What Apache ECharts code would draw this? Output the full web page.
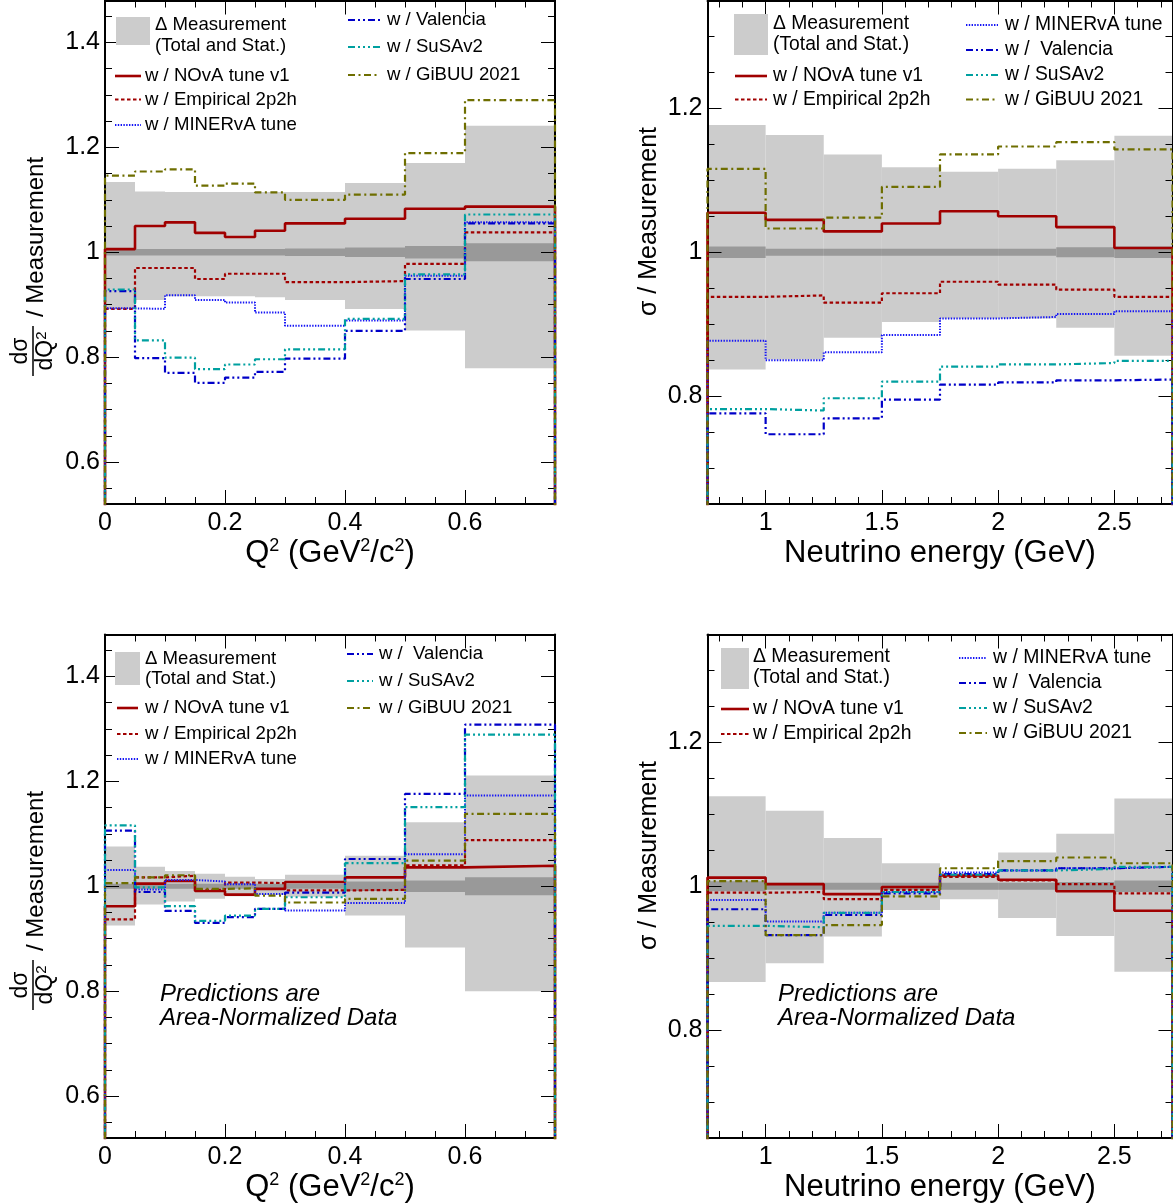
<!DOCTYPE html>
<html>
<head>
<meta charset="utf-8">
<script src="https://cdn.jsdelivr.net/npm/echarts@6/dist/echarts.min.js"></script>
<style>
  html, body { margin: 0; padding: 0; background: #ffffff; }
  #chart { width: 1173px; height: 1204px; }
</style>
</head>
<body>
<div id="chart"></div>
<script>
const FONT = '"Liberation Sans", Arial, Helvetica, sans-serif';

// ---- binning and ticks ----
const q2Edges = [0, 0.05, 0.1, 0.15, 0.2, 0.25, 0.3, 0.4, 0.5, 0.6, 0.75];
const enuEdges = [0.75, 1.0, 1.25, 1.5, 1.75, 2.0, 2.25, 2.5, 2.75];
const q2TickLabels = [0, 0.2, 0.4, 0.6];
const enuTickLabels = [1, 1.5, 2, 2.5];
const q2RatioTicks = [0.6, 0.8, 1, 1.2, 1.4];
const enuRatioTicks = [0.8, 1, 1.2];

// ---- Q2, absolute prediction / measurement ----
const q2AbsTotalUp   = [0.134, 0.116, 0.115, 0.115, 0.115, 0.115, 0.115, 0.132, 0.170, 0.241];
const q2AbsTotalDown = [0.108, 0.091, 0.084, 0.084, 0.084, 0.086, 0.091, 0.108, 0.149, 0.221];
const q2AbsStat      = [0.006, 0.006, 0.006, 0.006, 0.006, 0.006, 0.007, 0.009, 0.012, 0.017];
const q2AbsNova      = [1.006, 1.050, 1.057, 1.037, 1.029, 1.041, 1.055, 1.064, 1.083, 1.087];
const q2AbsEmpirical = [0.892, 0.970, 0.970, 0.949, 0.959, 0.959, 0.943, 0.945, 0.978, 1.038];
const q2AbsMinerva   = [0.893, 0.892, 0.918, 0.909, 0.904, 0.885, 0.860, 0.870, 0.955, 1.057];
const q2AbsValencia  = [0.926, 0.798, 0.770, 0.751, 0.761, 0.772, 0.797, 0.850, 0.949, 1.055];
const q2AbsSusa      = [0.929, 0.832, 0.799, 0.777, 0.786, 0.796, 0.815, 0.873, 0.958, 1.072];
const q2AbsGibuu     = [1.146, 1.154, 1.158, 1.127, 1.131, 1.114, 1.100, 1.110, 1.189, 1.290];

// ---- neutrino energy, absolute prediction / measurement ----
const enuAbsTotalUp   = [0.177, 0.163, 0.136, 0.118, 0.112, 0.116, 0.128, 0.162];
const enuAbsTotalDown = [0.163, 0.149, 0.119, 0.097, 0.092, 0.092, 0.105, 0.144];
const enuAbsStat      = [0.008, 0.005, 0.005, 0.005, 0.005, 0.005, 0.007, 0.008];
const enuAbsNova      = [1.055, 1.045, 1.029, 1.040, 1.057, 1.050, 1.035, 1.006];
const enuAbsEmpirical = [0.938, 0.940, 0.930, 0.943, 0.959, 0.955, 0.948, 0.938];
const enuAbsMinerva   = [0.877, 0.850, 0.861, 0.885, 0.908, 0.910, 0.914, 0.918];
const enuAbsValencia  = [0.776, 0.747, 0.769, 0.795, 0.816, 0.819, 0.822, 0.823];
const enuAbsSusa      = [0.782, 0.780, 0.797, 0.820, 0.841, 0.844, 0.846, 0.849];
const enuAbsGibuu     = [1.116, 1.033, 1.048, 1.091, 1.136, 1.147, 1.153, 1.143];

// ---- Q2, area-normalized prediction / measurement ----
const q2ShapeTotalUp   = [0.076, 0.037, 0.029, 0.024, 0.018, 0.014, 0.022, 0.058, 0.122, 0.211];
const q2ShapeTotalDown = [0.075, 0.035, 0.029, 0.024, 0.019, 0.016, 0.020, 0.056, 0.117, 0.200];
const q2ShapeStat      = [0.005, 0.005, 0.005, 0.005, 0.005, 0.005, 0.005, 0.009, 0.011, 0.017];
const q2ShapeNova      = [0.962, 1.005, 1.010, 0.991, 0.984, 0.995, 1.008, 1.017, 1.036, 1.039];
const q2ShapeEmpirical = [0.937, 1.017, 1.020, 0.993, 1.007, 1.006, 0.992, 0.993, 1.040, 1.088];
const q2ShapeMinerva   = [1.031, 0.994, 1.012, 1.009, 1.004, 0.985, 0.954, 0.968, 1.061, 1.173];
const q2ShapeValencia  = [1.106, 0.989, 0.953, 0.930, 0.941, 0.957, 0.988, 1.052, 1.176, 1.308];
const q2ShapeSusa      = [1.116, 0.998, 0.962, 0.934, 0.944, 0.957, 0.979, 1.044, 1.151, 1.289];
const q2ShapeGibuu     = [1.006, 1.017, 1.021, 0.995, 0.996, 0.982, 0.969, 0.976, 1.049, 1.138];

// ---- neutrino energy, area-normalized prediction / measurement ----
const enuShapeTotalUp   = [0.125, 0.105, 0.067, 0.032, 0.018, 0.047, 0.073, 0.122];
const enuShapeTotalDown = [0.133, 0.107, 0.070, 0.033, 0.018, 0.044, 0.069, 0.119];
const enuShapeStat      = [0.007, 0.005, 0.005, 0.005, 0.005, 0.005, 0.006, 0.008];
const enuShapeNova      = [1.012, 1.003, 0.989, 0.999, 1.015, 1.009, 0.993, 0.966];
const enuShapeEmpirical = [0.991, 0.992, 0.982, 0.995, 1.013, 1.008, 1.003, 0.990];
const enuShapeMinerva   = [0.981, 0.951, 0.963, 0.992, 1.019, 1.022, 1.025, 1.027];
const enuShapeValencia  = [0.968, 0.932, 0.960, 0.990, 1.017, 1.022, 1.025, 1.027];
const enuShapeSusa      = [0.945, 0.943, 0.963, 0.992, 1.016, 1.022, 1.024, 1.027];
const enuShapeGibuu     = [1.007, 0.932, 0.946, 0.986, 1.025, 1.035, 1.040, 1.032];

// ---- drawing styles ----
const TOTAL_FILL = '#cccccc';
const STAT_FILL = '#999999';
const MODEL_ORDER = ['nova', 'emp', 'minerva', 'valencia', 'susa', 'gibuu'];
const MODEL_STYLE = {
  nova:     { color: '#a00000', width: 2.6, dash: 'solid' },
  emp:      { color: '#a00000', width: 2.2, dash: [3.5, 2.5] },
  minerva:  { color: '#1414f5', width: 2.0, dash: [1.4, 1.4] },
  valencia: { color: '#0000c8', width: 2.2, dash: [7, 3, 2, 3, 2, 3] },
  susa:     { color: '#00a0a0', width: 2.2, dash: [7, 3, 2, 3, 2, 3, 2, 3] },
  gibuu:    { color: '#6e6e00', width: 2.2, dash: [7, 3.5, 2, 3.5] }
};
const MODEL_LABEL = {
  nova: 'w / NOvA tune v1',
  emp: 'w / Empirical 2p2h',
  minerva: 'w / MINERvA tune',
  valencia: 'w /  Valencia',
  susa: 'w / SuSAv2',
  gibuu: 'w / GiBUU 2021'
};

const X_SCALES = {
  q2:  { min: 0, max: 0.75, split: 4, minor: 4, ticks: q2TickLabels,
         name: 'Q{s|2} (GeV{s|2}/c{s|2})' },
  enu: { min: 0.75, max: 2.75, split: 4, minor: 5, ticks: enuTickLabels,
         name: 'Neutrino energy (GeV)' }
};
const Y_SCALES = {
  q2:  { min: 0.52, max: 1.48, split: 5, minor: 4, ticks: q2RatioTicks },
  enu: { min: 0.65, max: 1.35, split: 4, minor: 4, ticks: enuRatioTicks }
};

const PANELS = [
  { grid: { left: 105, top: 0.5, width: 450, height: 503.5 }, kind: 'q2', edges: q2Edges,
    up: q2AbsTotalUp, down: q2AbsTotalDown, stat: q2AbsStat,
    curves: { nova: q2AbsNova, emp: q2AbsEmpirical, minerva: q2AbsMinerva,
              valencia: q2AbsValencia, susa: q2AbsSusa, gibuu: q2AbsGibuu } },
  { grid: { left: 707.5, top: 0.5, width: 465, height: 503.5 }, kind: 'enu', edges: enuEdges,
    up: enuAbsTotalUp, down: enuAbsTotalDown, stat: enuAbsStat,
    curves: { nova: enuAbsNova, emp: enuAbsEmpirical, minerva: enuAbsMinerva,
              valencia: enuAbsValencia, susa: enuAbsSusa, gibuu: enuAbsGibuu } },
  { grid: { left: 105, top: 634.5, width: 450, height: 503.5 }, kind: 'q2', edges: q2Edges,
    up: q2ShapeTotalUp, down: q2ShapeTotalDown, stat: q2ShapeStat,
    curves: { nova: q2ShapeNova, emp: q2ShapeEmpirical, minerva: q2ShapeMinerva,
              valencia: q2ShapeValencia, susa: q2ShapeSusa, gibuu: q2ShapeGibuu } },
  { grid: { left: 707.5, top: 634.5, width: 465, height: 503.5 }, kind: 'enu', edges: enuEdges,
    up: enuShapeTotalUp, down: enuShapeTotalDown, stat: enuShapeStat,
    curves: { nova: enuShapeNova, emp: enuShapeEmpirical, minerva: enuShapeMinerva,
              valencia: enuShapeValencia, susa: enuShapeSusa, gibuu: enuShapeGibuu } }
];

// legend block placement for each pad
const LEGENDS = [
  { font: 18.6, box: [116, 17, 34, 28], boxText: [155, 25, 46],
    columns: [
      { line: [115, 141], text: 145, rows: [['nova', 76], ['emp', 99.5], ['minerva', 125]] },
      { line: [348, 380], text: 387, rows: [['valencia', 20, 'w / Valencia'], ['susa', 47], ['gibuu', 75]] }
    ] },
  { font: 19.3, box: [734, 14, 34, 41], boxText: [773, 24, 45],
    columns: [
      { line: [735, 767], text: 773, rows: [['nova', 76], ['emp', 99.5]] },
      { line: [966, 998], text: 1005, rows: [['minerva', 25], ['valencia', 50], ['susa', 75], ['gibuu', 99.5]] }
    ] },
  { font: 18.6, box: [115, 652, 25, 33], boxText: [145, 659, 679],
    columns: [
      { line: [117, 138], text: 145, rows: [['nova', 708], ['emp', 734], ['minerva', 759]] },
      { line: [347, 373], text: 379, rows: [['valencia', 654], ['susa', 681], ['gibuu', 708]] }
    ] },
  { font: 19.4, box: [721, 648, 28, 41], boxText: [753, 657, 678],
    columns: [
      { line: [721, 749], text: 753, rows: [['nova', 709], ['emp', 734]] },
      { line: [959, 987], text: 993, rows: [['minerva', 658], ['valencia', 683], ['susa', 708], ['gibuu', 733]] }
    ] }
];

function labelFormatter(ticks) {
  return function (v) {
    const t = ticks.find(function (k) { return Math.abs(k - v) < 1e-6; });
    return t === undefined ? '' : String(t);
  };
}

// histogram outline: rises from zero at the first edge and drops back at the last
function stepData(edges, vals) {
  const d = [[edges[0], 0]];
  vals.forEach(function (v, i) { d.push([edges[i], v]); });
  d.push([edges[edges.length - 1], vals[vals.length - 1]]);
  d.push([edges[edges.length - 1], 0]);
  return d;
}

function bandSeries(xi, yi, edges, up, down, fill, z) {
  return {
    type: 'custom', xAxisIndex: xi, yAxisIndex: yi, silent: true, animation: false, z: z, clip: true,
    encode: { x: [0, 1], y: [2, 3] },
    data: edges.slice(0, -1).map(function (e, i) { return [e, edges[i + 1], 1 - down[i], 1 + up[i]]; }),
    renderItem: function (params, api) {
      const a = api.coord([api.value(0), api.value(3)]);
      const b = api.coord([api.value(1), api.value(2)]);
      return { type: 'rect', shape: { x: a[0], y: a[1], width: b[0] - a[0], height: b[1] - a[1] },
               style: { fill: fill } };
    }
  };
}

const grids = [], xAxes = [], yAxes = [], series = [];
const axisLine = { show: true, onZero: false, lineStyle: { color: '#000', width: 2 } };
const axisTick = { show: true, inside: true, length: 14, lineStyle: { color: '#000', width: 1 } };

PANELS.forEach(function (p, gi) {
  grids.push(Object.assign({ containLabel: false, outerBoundsMode: 'none' }, p.grid));
  const xs = X_SCALES[p.kind], ys = Y_SCALES[p.kind];
  const xBase = { type: 'value', gridIndex: gi, min: xs.min, max: xs.max, splitNumber: xs.split, z: 1,
    splitLine: { show: false }, axisLine: axisLine, axisTick: axisTick,
    minorTick: { show: true, splitNumber: xs.minor, length: 7, lineStyle: { color: '#000', width: 1 } } };
  const yBase = { type: 'value', gridIndex: gi, min: ys.min, max: ys.max, splitNumber: ys.split, z: 1,
    splitLine: { show: false }, axisLine: axisLine, axisTick: axisTick,
    minorTick: { show: true, splitNumber: ys.minor, length: 7, lineStyle: { color: '#000', width: 1 } } };
  xAxes.push(Object.assign({}, xBase, {
    position: 'bottom',
    axisLabel: { show: true, margin: 7, fontSize: 25, fontFamily: FONT, color: '#000',
                 formatter: labelFormatter(xs.ticks), hideOverlap: false },
    name: xs.name, nameLocation: 'middle', nameGap: 33, nameMoveOverlap: false,
    nameTextStyle: { fontSize: 31, lineHeight: 32, fontFamily: FONT, color: '#000',
      rich: { s: { fontSize: 18, lineHeight: 11, fontFamily: FONT, color: '#000', verticalAlign: 'top' } } }
  }));
  xAxes.push(Object.assign({}, xBase, { position: 'top', axisLabel: { show: false } }));
  yAxes.push(Object.assign({}, yBase, {
    position: 'left',
    axisLabel: { show: true, margin: 5, fontSize: 25, fontFamily: FONT, color: '#000',
                 formatter: labelFormatter(ys.ticks), hideOverlap: false }
  }));
  yAxes.push(Object.assign({}, yBase, { position: 'right', axisLabel: { show: false } }));

  const xi = 2 * gi, yi = 2 * gi;
  series.push(bandSeries(xi, yi, p.edges, p.up, p.down, TOTAL_FILL, 0));
  series.push(bandSeries(xi, yi, p.edges, p.stat, p.stat, STAT_FILL, 0));
  MODEL_ORDER.forEach(function (m) {
    const st = MODEL_STYLE[m];
    series.push({
      type: 'line', name: MODEL_LABEL[m], xAxisIndex: xi, yAxisIndex: yi,
      data: stepData(p.edges, p.curves[m]), step: 'end', symbol: 'none', showSymbol: false,
      silent: true, animation: false, clip: true, z: 3,
      lineStyle: { color: st.color, width: st.width, type: st.dash }
    });
  });
});

// ---- annotations: legends, y titles, normalisation note ----
const graphics = [];
function txt(x, y, text, size, extra) {
  return Object.assign({ type: 'text', x: x, y: y, z: 10, silent: true,
    style: Object.assign({ text: text, font: size + 'px ' + FONT, fill: '#000',
      align: 'left', verticalAlign: 'middle', textAlign: 'left', textVerticalAlign: 'middle' }, extra || {}) });
}
LEGENDS.forEach(function (lg) {
  graphics.push({ type: 'rect', z: 10, silent: true,
    shape: { x: lg.box[0], y: lg.box[1], width: lg.box[2], height: lg.box[3] }, style: { fill: TOTAL_FILL } });
  graphics.push(txt(lg.boxText[0], lg.boxText[1], '\u0394 Measurement', lg.font));
  graphics.push(txt(lg.boxText[0], lg.boxText[2], '(Total and Stat.)', lg.font));
  lg.columns.forEach(function (col) {
    col.rows.forEach(function (r) {
      const st = MODEL_STYLE[r[0]];
      graphics.push({ type: 'line', z: 10, silent: true,
        shape: { x1: col.line[0], y1: r[1], x2: col.line[1], y2: r[1] },
        style: { stroke: st.color, lineWidth: st.width, lineDash: st.dash === 'solid' ? null : st.dash } });
      graphics.push(txt(col.text, r[1], r[2] || MODEL_LABEL[r[0]], lg.font));
    });
  });
});

// d sigma / dQ2 fraction titles, rotated to read upwards
[378, 1012].forEach(function (y0) {
  graphics.push({ type: 'group', x: 33, y: y0, rotation: Math.PI / 2, silent: true, z: 10,
    children: [
      { type: 'text', x: 27, y: -12, style: { text: 'd\u03c3', font: '23px ' + FONT, fill: '#000',
        align: 'center', verticalAlign: 'middle', textAlign: 'center', textVerticalAlign: 'middle' } },
      { type: 'line', shape: { x1: 2, y1: 0, x2: 52, y2: 0 }, style: { stroke: '#000', lineWidth: 1.5 } },
      { type: 'text', x: 27, y: 13, style: { text: 'dQ{s|2}', font: '23px ' + FONT, fill: '#000', lineHeight: 24,
        align: 'center', verticalAlign: 'middle', textAlign: 'center', textVerticalAlign: 'middle',
        rich: { s: { fontSize: 15, lineHeight: 10, fontFamily: FONT, fill: '#000', verticalAlign: 'top' } } } },
      { type: 'text', x: 61, y: 3, style: { text: '/ Measurement', font: '24px ' + FONT, fill: '#000',
        align: 'left', verticalAlign: 'middle', textAlign: 'left', textVerticalAlign: 'middle' } }
    ] });
});
[221.5, 855.5].forEach(function (yc) {
  graphics.push({ type: 'text', x: 649, y: yc, rotation: Math.PI / 2, silent: true, z: 10,
    style: { text: '\u03c3 / Measurement', font: '25px ' + FONT, fill: '#000',
      align: 'center', verticalAlign: 'middle', textAlign: 'center', textVerticalAlign: 'middle' } });
});
[160, 778].forEach(function (x0) {
  graphics.push(txt(x0, 994, 'Predictions are', 24, { font: 'italic 24px ' + FONT }));
  graphics.push(txt(x0, 1018.5, 'Area-Normalized Data', 24, { font: 'italic 24px ' + FONT }));
});

const chart = echarts.init(document.getElementById('chart'), null, { renderer: 'canvas' });
chart.setOption({
  backgroundColor: '#ffffff',
  animation: false,
  textStyle: { fontFamily: FONT },
  grid: grids,
  xAxis: xAxes,
  yAxis: yAxes,
  series: series,
  graphic: { elements: graphics }
});
</script>
</body>
</html>
